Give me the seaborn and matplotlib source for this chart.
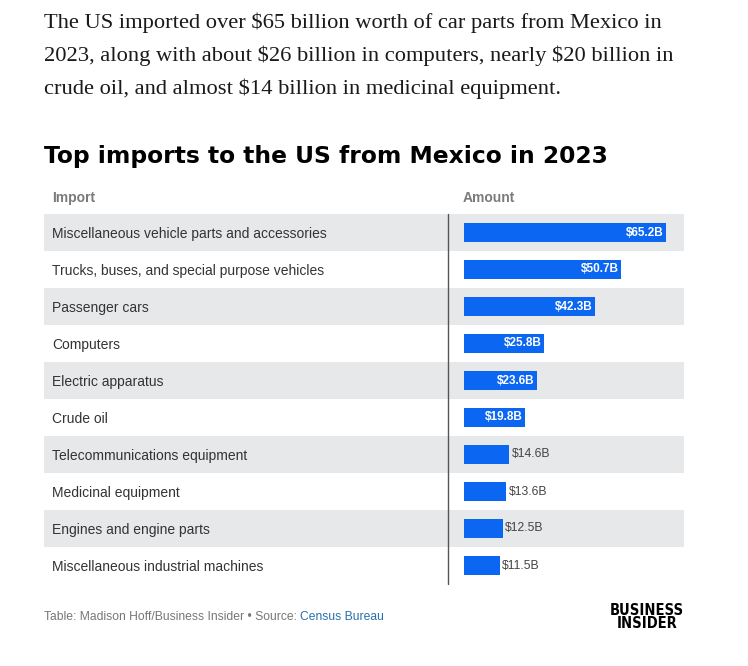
import pandas as pd
import seaborn as sns
import matplotlib.pyplot as plt
from matplotlib.transforms import blended_transform_factory

imports = [
    'Miscellaneous vehicle parts and accessories',
    'Trucks, buses, and special purpose vehicles',
    'Passenger cars',
    'Computers',
    'Electric apparatus',
    'Crude oil',
    'Telecommunications equipment',
    'Medicinal equipment',
    'Engines and engine parts',
    'Miscellaneous industrial machines',
]
amounts = [65.2, 50.7, 42.3, 25.8, 23.6, 19.8, 14.6, 13.6, 12.5, 11.5]

df = pd.DataFrame({'Import': imports, 'Amount': amounts})

W, H = 748, 666
blue = '#0b67f2'
shade = '#e7e8e9'


def fx(x):
    return x / W


def fy(y):
    return 1 - y / H


sns.set_theme(style='white')
plt.rcParams['font.family'] = ['Liberation Sans', 'DejaVu Sans']
plt.rcParams['text.parse_math'] = False

fig = plt.figure(figsize=(W / 100, H / 100), dpi=100)
fig.patch.set_facecolor('white')

# texto introdutório
intro = [
    'The US imported over $65 billion worth of car parts from Mexico in',
    '2023, along with about $26 billion in computers, nearly $20 billion in',
    'crude oil, and almost $14 billion in medicinal equipment.',
]
for i, line in enumerate(intro):
    fig.text(fx(44), fy(23 + i * 33), line, family='Liberation Serif', fontsize=16.2,
             color='#1a1a1a', va='center')

fig.text(fx(44), fy(157), 'Top imports to the US from Mexico in 2023', fontsize=16.8,
         fontweight='heavy', family='DejaVu Sans', color='black', va='center')

fig.text(fx(52), fy(198), 'Import', fontsize=10, color='#7a7a7a', fontweight='bold', va='center')
fig.text(fx(463), fy(198), 'Amount', fontsize=10, color='#7a7a7a', fontweight='bold', va='center')

# eixo da tabela
left, right, top, bottom = 44, 684, 214, 584
ax = fig.add_axes([fx(left), fy(bottom), fx(right - left), (bottom - top) / H])

for i in range(0, len(imports), 2):
    ax.axhspan(i - 0.5, i + 0.5, color=shade, zorder=0, lw=0)

sns.barplot(data=df, x='Amount', y='Import', color=blue, saturation=1, width=0.54,
            linewidth=0, ax=ax, zorder=2)

# escala: 0 em x=464 px, ~3.1 px por bilhão
scale = 3.1
ax.set_xlim(-(464 - left) / scale, (right - 464) / scale)
ax.set_ylim(len(imports) - 0.5, -0.5)

trans = blended_transform_factory(ax.transAxes, ax.transData)
for i, (name, v) in enumerate(zip(imports, amounts)):
    ax.text(8 / (right - left), i + 0.03, name, transform=trans, fontsize=10, color='#333333',
            va='center', ha='left')
    label = f'${v}B'
    if v >= 19:
        ax.text(v - 0.8, i, label, ha='right', va='center', color='white', fontsize=8.5,
                fontweight='bold', zorder=3)
    else:
        ax.text(v + 0.8, i, label, ha='left', va='center', color='#444444', fontsize=8.7,
                zorder=3)

ax.plot([(448 - left) / (right - left)] * 2, [0, 1], transform=ax.transAxes,
        color='#555555', lw=1, zorder=4, clip_on=False)

ax.set_xlabel('')
ax.set_ylabel('')
ax.set_xticks([])
ax.set_yticks([])
sns.despine(ax=ax, left=True, bottom=True)

# rodapé
t = fig.text(fx(44), fy(617), 'Table: Madison Hoff/Business Insider \u2022 Source: ',
             fontsize=8.7, color='#777777', va='center')
fig.canvas.draw()
bb = t.get_window_extent()
fig.text(bb.x1 / W, fy(617), 'Census Bureau', fontsize=8.7, color='#2a6fb0', va='center')

fig.text(fx(647), fy(617), 'BUSINESS\nINSIDER', fontsize=10.5, fontweight='heavy',
         family='DejaVu Sans', fontstretch='condensed', color='black', ha='center',
         va='center', linespacing=0.85)

fig.savefig('out.png', dpi=100)
